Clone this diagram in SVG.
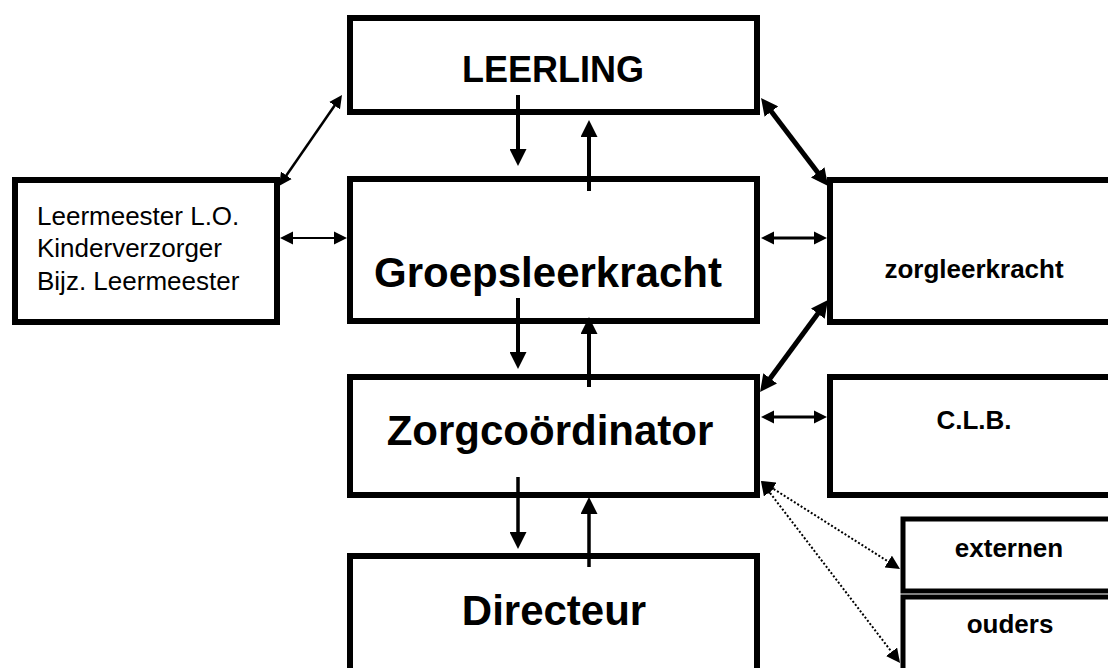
<svg xmlns="http://www.w3.org/2000/svg" width="1108" height="668" viewBox="0 0 1108 668">
<style>
.box{fill:#fff;stroke:#000;stroke-width:6}
.sbox{fill:#fff;stroke:#000;stroke-width:5}
.big{font-family:"Liberation Sans",Arial,sans-serif;font-weight:bold;text-anchor:middle;fill:#000}
.small{font-family:"Liberation Sans",Arial,sans-serif;font-weight:bold;font-size:26px;text-anchor:middle;fill:#000}
.reg{font-family:"Liberation Sans",Arial,sans-serif;font-size:26px;fill:#000}
.c{fill:none;stroke:#000}
.dot{fill:none;stroke:#000;stroke-width:2;stroke-dasharray:2 2}
</style>
<defs>
<marker id="ab" viewBox="0 0 10 10" refX="5" refY="5" markerWidth="17" markerHeight="17" markerUnits="userSpaceOnUse" orient="auto-start-reverse"><path d="M0,0 L10,5 L0,10 z" fill="#000"/></marker>
<marker id="as" viewBox="0 0 10 10" refX="5" refY="5" markerWidth="13" markerHeight="14" markerUnits="userSpaceOnUse" orient="auto-start-reverse"><path d="M0,0 L10,5 L0,10 z" fill="#000"/></marker>
<marker id="ad" viewBox="0 0 10 10" refX="5" refY="5" markerWidth="14" markerHeight="14" markerUnits="userSpaceOnUse" orient="auto-start-reverse"><path d="M0,0 L10,5 L0,10 z" fill="#000"/></marker>
</defs>
<rect width="1108" height="668" fill="#fff"/>
<g id="leerling"><rect class="box" x="350" y="18" width="407" height="94"/><text class="big" x="553" y="82" font-size="36">LEERLING</text></g>
<g id="groepsleerkracht"><rect class="box" x="350" y="179" width="407" height="142"/><text class="big" x="548" y="287" font-size="42">Groepsleerkracht</text></g>
<g id="zorgcoordinator"><rect class="box" x="350" y="377" width="407" height="118"/><text class="big" x="550" y="445" font-size="42">Zorgcoördinator</text></g>
<g id="directeur"><rect class="box" x="350" y="556" width="407" height="140"/><text class="big" x="554" y="625" font-size="42">Directeur</text></g>
<g id="leermeester"><rect class="box" x="15" y="180" width="262" height="142"/><text class="reg" x="37" y="225">Leermeester L.O.</text><text class="reg" x="37" y="257">Kinderverzorger</text><text class="reg" x="37" y="290">Bijz. Leermeester</text></g>
<g id="zorgleerkracht"><rect class="box" x="830" y="180" width="300" height="142"/><text class="small" x="974" y="278">zorgleerkracht</text></g>
<g id="clb"><rect class="box" x="830" y="377" width="300" height="118"/><text class="small" x="974" y="429">C.L.B.</text></g>
<g id="externen"><rect class="sbox" x="903" y="519" width="230" height="72"/><text class="small" x="1009" y="557">externen</text></g>
<g id="ouders"><rect class="sbox" x="903" y="597" width="230" height="100"/><text class="small" x="1010" y="633">ouders</text></g>
<g id="connectors">
<line class="c" stroke-width="4" x1="518" y1="95" x2="518" y2="157.5" marker-end="url(#ab)"/>
<line class="c" stroke-width="4" x1="589" y1="191" x2="589" y2="128.5" marker-end="url(#ab)"/>
<line class="c" stroke-width="4" x1="518" y1="298" x2="518" y2="360.5" marker-end="url(#ab)"/>
<line class="c" stroke-width="4" x1="589" y1="387" x2="589" y2="325.5" marker-end="url(#ab)"/>
<line class="c" stroke-width="3.5" x1="518" y1="477" x2="518" y2="540.5" marker-end="url(#ab)"/>
<line class="c" stroke-width="3.5" x1="589" y1="567" x2="589" y2="505.5" marker-end="url(#ab)"/>
<line class="c" stroke-width="2" x1="286.5" y1="238" x2="340.5" y2="238" marker-start="url(#as)" marker-end="url(#as)"/>
<line class="c" stroke-width="3" x1="767.5" y1="238" x2="820.5" y2="238" marker-start="url(#as)" marker-end="url(#as)"/>
<line class="c" stroke-width="3" x1="767.5" y1="417" x2="820.5" y2="417" marker-start="url(#as)" marker-end="url(#as)"/>
<line class="c" stroke-width="2.5" x1="282.7" y1="180.7" x2="338.3" y2="100.3" marker-start="url(#as)" marker-end="url(#as)"/>
<line class="c" stroke-width="5" x1="766.2" y1="104.8" x2="822.9" y2="179.2" marker-start="url(#ab)" marker-end="url(#ab)"/>
<line class="c" stroke-width="5" x1="765.1" y1="385.2" x2="822.9" y2="306.8" marker-start="url(#ab)" marker-end="url(#ab)"/>
<line class="dot" x1="766.9" y1="484.7" x2="894.1" y2="565.3" marker-start="url(#ad)" marker-end="url(#ad)"/>
<line class="dot" x1="765.2" y1="486.6" x2="895.8" y2="657.4" marker-start="url(#ad)" marker-end="url(#ad)"/>
</g>
</svg>
